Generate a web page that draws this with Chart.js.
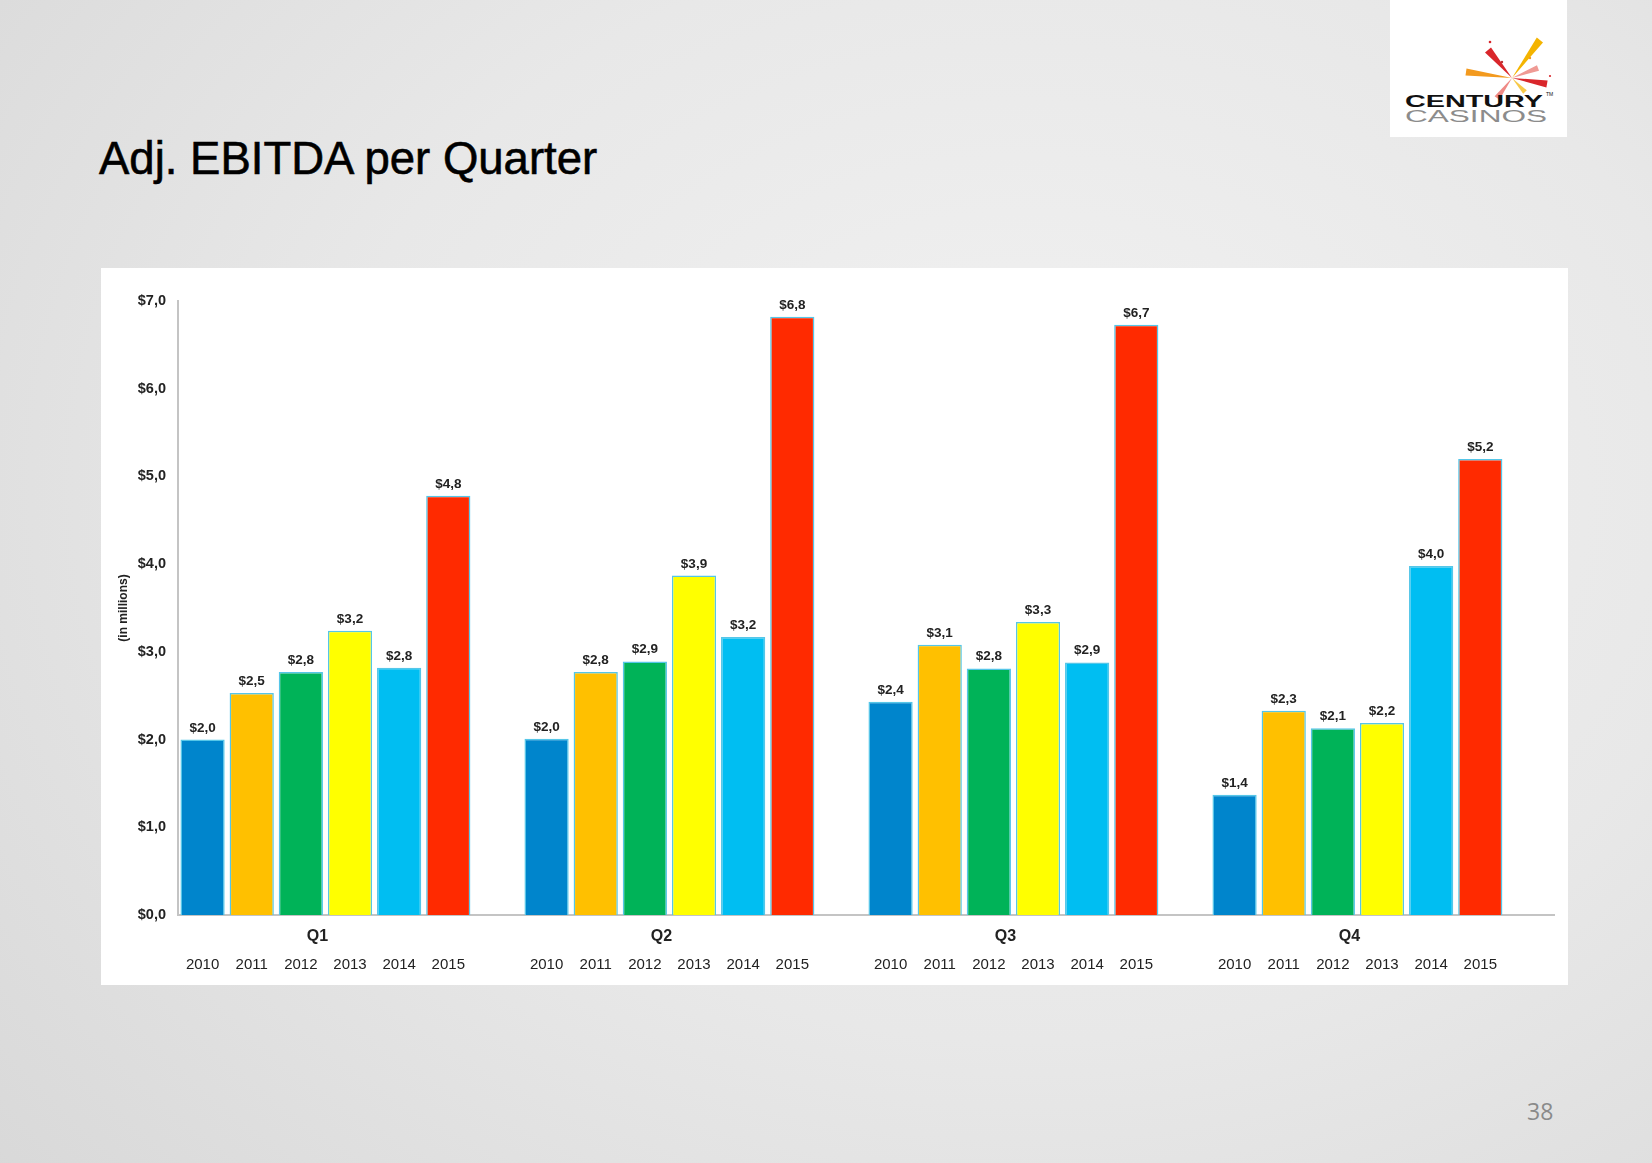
<!DOCTYPE html>
<html>
<head>
<meta charset="utf-8">
<script src="https://cdn.jsdelivr.net/npm/chart.js@4.4.1/dist/chart.umd.min.js"></script>
<style>
html, body { margin: 0; padding: 0; }
body {
  width: 1652px; height: 1163px; position: relative; overflow: hidden;
  font-family: "Liberation Sans", Arial, sans-serif;
  background: radial-gradient(ellipse 85% 95% at 62% 42%, #f2f2f2 0%, #e8e8e8 50%, #d7d7d7 100%);
}
#title { position: absolute; left: 99px; top: 136px; font-size: 45.5px; line-height: 1; color: #000; -webkit-text-stroke: 0.6px #000; }
#logo { position: absolute; left: 1390px; top: 0; width: 177px; height: 137px; background: #fff; }
#panel { position: absolute; left: 101px; top: 268px; width: 1467px; height: 717px; background: #fff; }
#page { position: absolute; left: 1527px; top: 1100px; font-family: "Open Sans", sans-serif; font-size: 23px; line-height: 1; color: #8a8a8a; }
</style>
</head>
<body>
<div id="title">Adj. EBITDA per Quarter</div>
<div id="logo">
  <svg width="177" height="137" viewBox="0 0 177 137">
    <polygon points="122,78 101,47.4 95,52.6" fill="#d9262b"/>
    <polygon points="122,78 153,42.4 146.8,37.6" fill="#f4b400"/>
    <polygon points="122,78 76.5,68.5 75.5,75.5" fill="#f39a1e"/>
    <polygon points="122,78 156.4,87.5 157.6,80.5" fill="#d9262b"/>
    <polygon points="122,78 149,70.8 147,65.2" fill="#ef9a94"/>
    <polygon points="122,78 109.4,99.8 104.6,96.2" fill="#ef8a86"/>
    <polygon points="122,78 136.8,90.3 133.2,93.7" fill="#f7c948"/>
    <circle cx="100" cy="42" r="1.3" fill="#d9262b"/>
    <circle cx="140" cy="58" r="1.2" fill="#f39a1e"/>
    <circle cx="112" cy="62" r="1.2" fill="#b33"/>
    <circle cx="160" cy="76" r="1.1" fill="#d9262b"/>
    <text x="15" y="107" textLength="138" lengthAdjust="spacingAndGlyphs" font-family="Liberation Sans" font-weight="bold" font-size="16" fill="#111">CENTURY</text>
    <text x="156" y="96" font-family="Liberation Sans" font-size="5" fill="#111">TM</text>
    <text x="15" y="122" textLength="142" lengthAdjust="spacingAndGlyphs" font-family="Liberation Sans" font-size="16" fill="#8c8c8c">CASINOS</text>
  </svg>
</div>
<div id="panel"><canvas id="chart" width="1467" height="717"></canvas></div>
<div id="page">38</div>
<script>
const quarters = ['Q1', 'Q2', 'Q3', 'Q4'];
const years = ['2010', '2011', '2012', '2013', '2014', '2015'];
const v2010 = [2.0, 2.01, 2.43, 1.37];
const v2011 = [2.53, 2.77, 3.08, 2.33];
const v2012 = [2.77, 2.89, 2.81, 2.13];
const v2013 = [3.24, 3.87, 3.34, 2.19];
const v2014 = [2.82, 3.17, 2.88, 3.98];
const v2015 = [4.78, 6.82, 6.73, 5.2];
const yTicks = ['$0,0', '$1,0', '$2,0', '$3,0', '$4,0', '$5,0', '$6,0', '$7,0'];
const colors = ['#0085CC', '#FFC000', '#00B358', '#FFFF00', '#00BEF2', '#FF2A00'];

const series = [v2010, v2011, v2012, v2013, v2014, v2015];

function money(v) {
  return '$' + v.toFixed(1).replace('.', ',');
}

const labelPlugin = {
  id: 'labels',
  afterDatasetsDraw(chart) {
    const ctx = chart.ctx;
    const xs = chart.scales.x;
    ctx.save();
    ctx.fillStyle = '#222';
    ctx.textAlign = 'center';
    years.forEach((yr, i) => {
      chart.getDatasetMeta(i).data.forEach((bar, j) => {
        ctx.font = 'bold 13.5px "Liberation Sans"';
        ctx.textBaseline = 'bottom';
        ctx.fillText(money(series[i][j]), bar.x, bar.y - 5);
        ctx.font = '15px "Liberation Sans"';
        ctx.textBaseline = 'middle';
        ctx.fillText(yr, bar.x, xs.bottom + 50);
      });
    });
    // quarter names centred under the six bars
    ctx.font = 'bold 16px "Liberation Sans"';
    quarters.forEach((q, j) => {
      const first = chart.getDatasetMeta(0).data[j].x;
      const last = chart.getDatasetMeta(5).data[j].x;
      ctx.fillText(q, (first + last) / 2 - 8, xs.bottom + 22);
    });
    // axis title
    ctx.translate(23, (chart.chartArea.top + chart.chartArea.bottom) / 2);
    ctx.rotate(-Math.PI / 2);
    ctx.font = 'bold 12px "Liberation Sans"';
    ctx.fillText('(in millions)', 0, 0);
    ctx.restore();
  }
};

const datasets = years.map((yr, i) => ({
  label: yr,
  data: series[i],
  backgroundColor: colors[i],
  borderColor: '#55C6E8',
  borderWidth: 1.5,
  barPercentage: 0.9,
  categoryPercentage: 1.0
}));
// empty slot that leaves the gap after each quarter
datasets.push({ label: '', data: quarters.map(() => null), barPercentage: 0.9, categoryPercentage: 1.0 });

new Chart(document.getElementById('chart'), {
  type: 'bar',
  data: { labels: quarters, datasets },
  options: {
    responsive: false,
    animation: false,
    devicePixelRatio: 1,
    layout: { padding: { top: 33, right: 14, bottom: 70, left: 0 } },
    plugins: { legend: { display: false }, tooltip: { enabled: false } },
    scales: {
      x: {
        grid: { display: false, drawTicks: false },
        border: { display: true, color: '#c4c4c4', width: 2 },
        ticks: { display: false }
      },
      y: {
        min: 0, max: 7,
        grid: { display: false, drawTicks: false },
        border: { display: true, color: '#c4c4c4', width: 2 },
        ticks: {
          stepSize: 1,
          padding: 12,
          color: '#222',
          font: { family: 'Liberation Sans', size: 14.5, weight: 'bold' },
          callback: (v, i) => yTicks[i]
        },
        afterFit: s => { s.width = 77; }
      }
    }
  },
  plugins: [labelPlugin]
});
</script>
</body>
</html>
